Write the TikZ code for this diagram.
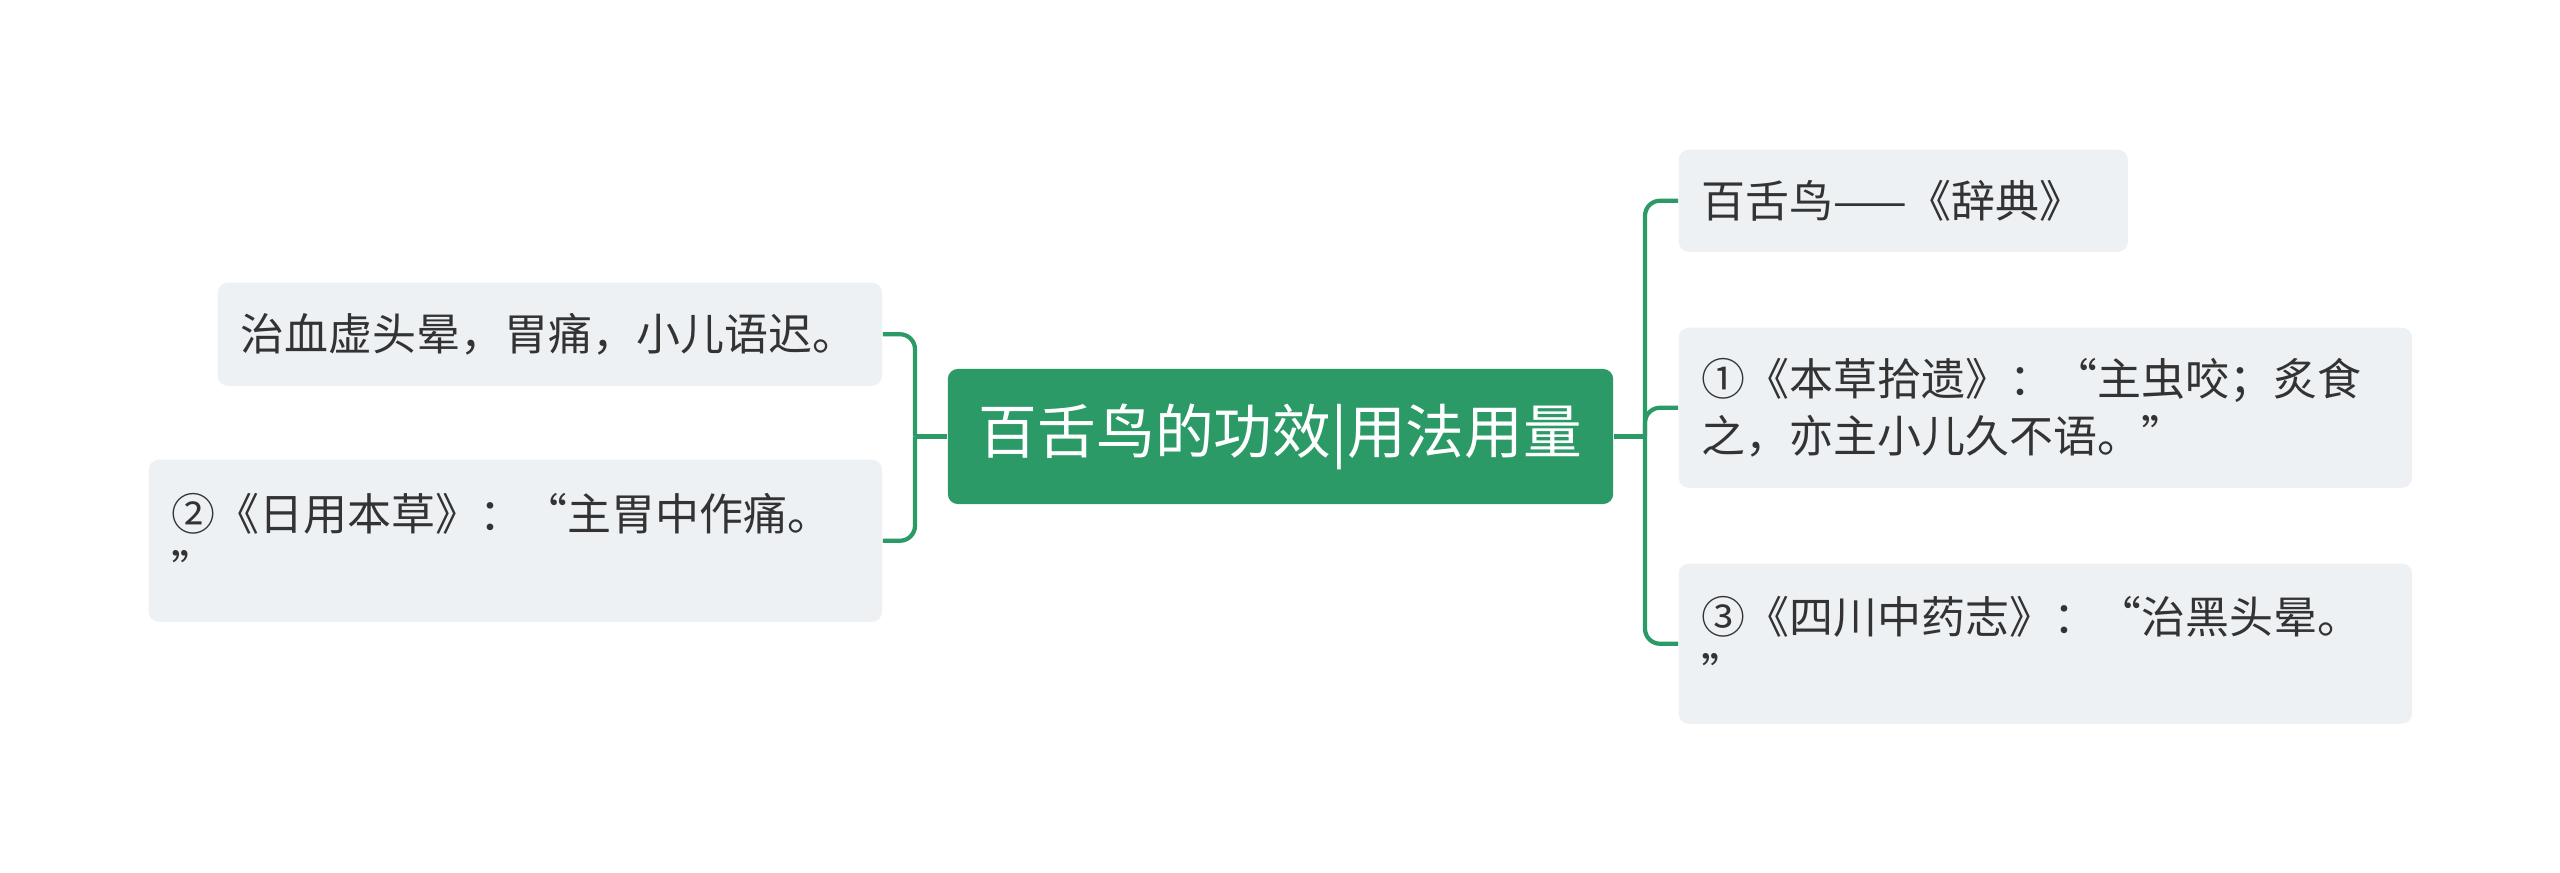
\documentclass[tikz,border=0pt]{standalone}
\usepackage{fontspec}
\setmainfont{Noto Sans CJK SC}

\definecolor{mapgreen}{HTML}{2B9A66}
\definecolor{leafgray}{HTML}{EEF1F4}
\definecolor{inkgray}{HTML}{333333}

\begin{document}
\begin{tikzpicture}[x=0.01cm,y=-0.01cm]

\tikzstyle{root} = [rectangle, rounded corners=0.1cm, fill=mapgreen, text=white, minimum width=6.65cm, minimum height=1.35cm, font=\fontsize{16.7}{20}\selectfont]
\tikzstyle{leaf} = [rectangle, rounded corners=0.1cm, fill=leafgray, text=inkgray, align=left, inner xsep=0.23cm, anchor=north west, font=\fontsize{12.5}{16.2}\selectfont]
\tikzstyle{link} = [draw=mapgreen, line width=1.2pt, rounded corners=0.15cm]

\useasboundingbox (0,0) rectangle (2560,873);

\node[root] (root) at (1280.5, 436.5) {百舌鸟的功效|用法用量};

\node[leaf, text width=6.18cm, minimum height=1.03cm] (l1) at (217, 282) {治血虚头晕，胃痛，小儿语迟。};
\node[leaf, text width=6.87cm, minimum height=1.62cm] (l2) at (148, 459) {②《日用本草》：“主胃中作痛。\\”};

\node[leaf, text width=4.03cm, minimum height=1.02cm] (r1) at (1678, 149) {百舌鸟——《辞典》};
\node[leaf, text width=6.87cm, minimum height=1.60cm] (r2) at (1678, 327) {①《本草拾遗》：“主虫咬；炙食\\之，亦主小儿久不语。”};
\node[leaf, text width=6.87cm, minimum height=1.60cm] (r3) at (1678, 563) {③《四川中药志》：“治黑头晕。\\”};

\coordinate (lj) at (915, 436.5);
\coordinate (rj) at (1645, 436.5);

\draw[link] (root.west) -- (lj);
\draw[link] (lj) |- (l1.east);
\draw[link] (lj) |- (l2.east);

\draw[link] (root.east) -- (rj);
\draw[link] (rj) |- (r1.west);
\draw[link] (rj) |- (r2.west);
\draw[link] (rj) |- (r3.west);

\end{tikzpicture}
\end{document}
